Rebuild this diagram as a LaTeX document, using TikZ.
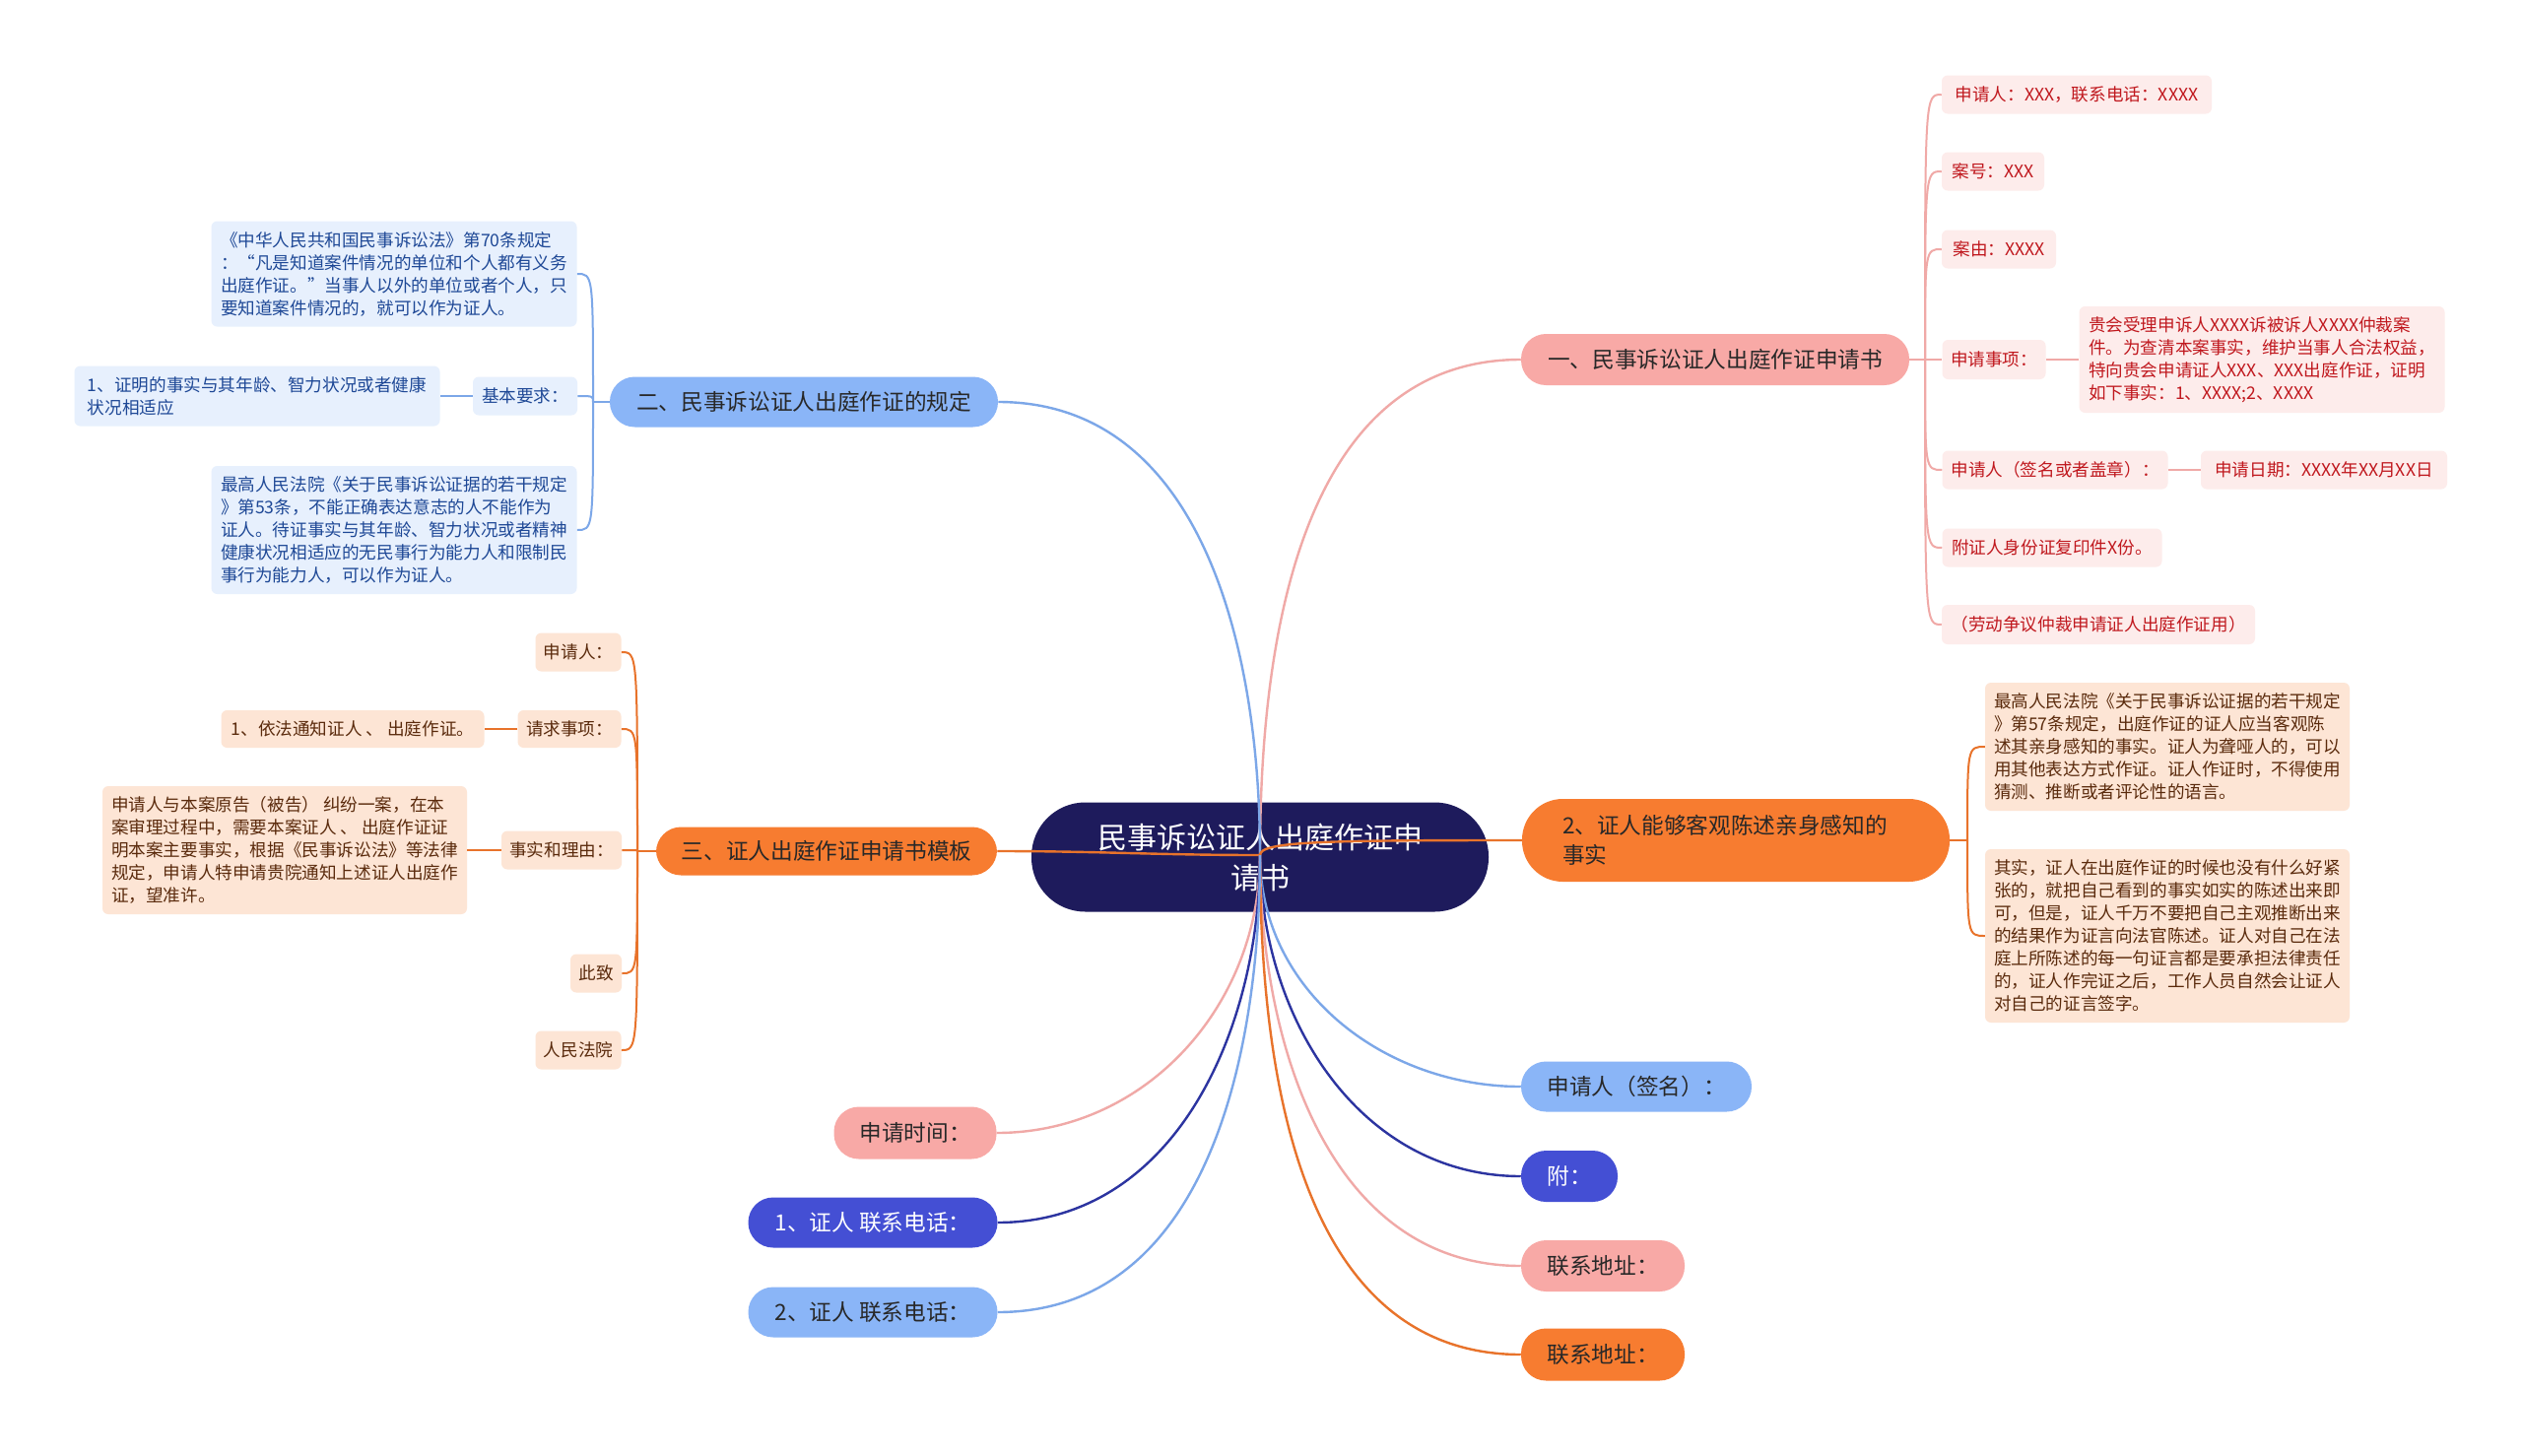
\documentclass[tikz,border=0pt]{standalone}
\usepackage{fontspec}
\newfontfamily\cjk{Noto Sans CJK SC}
\definecolor{rootc}{RGB}{30,27,92}
\definecolor{pinkB}{RGB}{248,169,166}
\definecolor{blueB}{RGB}{138,181,247}
\definecolor{orangeB}{RGB}{247,124,48}
\definecolor{navyB}{RGB}{68,79,212}
\definecolor{pinkL}{RGB}{240,169,167}
\definecolor{blueL}{RGB}{124,167,232}
\definecolor{orangeL}{RGB}{232,115,43}
\definecolor{navyL}{RGB}{44,52,160}
\definecolor{pinkC}{RGB}{253,236,235}
\definecolor{blueC}{RGB}{231,240,253}
\definecolor{orangeC}{RGB}{253,229,213}
\definecolor{redT}{RGB}{192,24,30}
\definecolor{blueT}{RGB}{30,72,150}
\definecolor{brownT}{RGB}{90,42,12}
\definecolor{darkT}{RGB}{40,40,40}
\begin{document}
\begin{tikzpicture}[x=0.75pt,y=-0.75pt,
  wh/.style 2 args={minimum width=#1*0.75pt, minimum height=#2*0.75pt},
  rootbox/.style={fill=rootc, text=white, rounded corners=41pt, align=center, inner sep=0pt,
    font=\cjk\fontsize{22.5pt}{30.75pt}\selectfont},
  mainbox/.style={rounded corners=19pt, inner sep=0pt, text=darkT,
    font=\cjk\fontsize{17pt}{22.5pt}\selectfont},
  leaf/.style={rounded corners=4.5pt, inner sep=0pt, align=left,
    font=\cjk\fontsize{13.2pt}{17.25pt}\selectfont},
  pleaf/.style={leaf, fill=pinkC, text=redT},
  bleaf/.style={leaf, fill=blueC, text=blueT},
  oleaf/.style={leaf, fill=orangeC, text=brownT},
  mk/.style={line width=1.8pt},
  lk/.style={line width=1.5pt}]
\useasboundingbox[fill=white] (0,0) rectangle (2560,1478);

% root
\node[rootbox, wh={464}{111}] (root) at (1279,870) {民事诉讼证人出庭作证申\\请书};

% main branches
\node[mainbox, fill=pinkB, wh={394}{52}] (b1) at (1741,365) {一、民事诉讼证人出庭作证申请书};
\node[mainbox, fill=blueB, wh={394}{51}] (b2) at (816,408) {二、民事诉讼证人出庭作证的规定};
\node[mainbox, fill=orangeB, wh={346}{49}] (b3) at (839,864) {三、证人出庭作证申请书模板};
\node[mainbox, fill=orangeB, align=left, rounded corners=31pt, inner xsep=41*0.75pt,
  text width=352*0.75pt, minimum height=84*0.75pt] (b4) at (1762,853) {2、证人能够客观陈述亲身感知的\\事实};
\node[mainbox, fill=blueB, wh={234}{51}] (b5) at (1661,1103) {申请人（签名）：};
\node[mainbox, fill=navyB, text=white, wh={98}{52}] (b6) at (1593,1194) {附：};
\node[mainbox, fill=pinkB, wh={166}{52}] (b7) at (1627,1285) {联系地址：};
\node[mainbox, fill=orangeB, wh={166}{53}] (b8) at (1627,1375) {联系地址：};
\node[mainbox, fill=pinkB, wh={165}{53}] (b9) at (929,1150) {申请时间：};
\node[mainbox, fill=navyB, text=white, wh={253}{51}] (b10) at (886,1241) {1、证人 联系电话：};
\node[mainbox, fill=blueB, wh={253}{51}] (b11) at (886,1332) {2、证人 联系电话：};

% branch 1 leaves
\node[pleaf, wh={274}{39}] (c1) at (2108,96) {申请人：XXX，联系电话：XXXX};
\node[pleaf, wh={104}{39}] (c2) at (2023,174) {案号：XXX};
\node[pleaf, wh={116}{39}] (c3) at (2029,253) {案由：XXXX};
\node[pleaf, wh={105}{40}] (c4) at (2024,365) {申请事项：};
\node[pleaf, wh={371}{108}] (c4a) at (2296,365) {贵会受理申诉人XXXX诉被诉人XXXX仲裁案\\件。为查清本案事实，维护当事人合法权益，\\特向贵会申请证人XXX、XXX出庭作证，证明\\如下事实：1、XXXX;2、XXXX};
\node[pleaf, wh={229}{39}] (c5) at (2086,477) {申请人（签名或者盖章）：};
\node[pleaf, wh={250}{39}] (c5a) at (2359,477) {申请日期：XXXX年XX月XX日};
\node[pleaf, wh={223}{39}] (c6) at (2083,556) {附证人身份证复印件X份。};
\node[pleaf, wh={318}{40}] (c7) at (2130,634) {（劳动争议仲裁申请证人出庭作证用）};

% branch 2 leaves
\node[bleaf, wh={371}{107}] (d1) at (400,278) {《中华人民共和国民事诉讼法》第70条规定\\：“凡是知道案件情况的单位和个人都有义务\\出庭作证。”当事人以外的单位或者个人，只\\要知道案件情况的，就可以作为证人。};
\node[bleaf, wh={106}{39}] (d2) at (533,402) {基本要求：};
\node[bleaf, wh={371}{61}] (d2a) at (261,402) {1、证明的事实与其年龄、智力状况或者健康\\状况相适应};
\node[bleaf, wh={371}{130}] (d3) at (400,538) {最高人民法院《关于民事诉讼证据的若干规定\\》第53条，不能正确表达意志的人不能作为\\证人。待证事实与其年龄、智力状况或者精神\\健康状况相适应的无民事行为能力人和限制民\\事行为能力人，可以作为证人。};

% branch 3 leaves
\node[oleaf, wh={87}{39}] (e1) at (587,662) {申请人：};
\node[oleaf, wh={105}{38}] (e2) at (578,740) {请求事项：};
\node[oleaf, wh={267}{38}] (e2a) at (358,740) {1、依法通知证人 、 出庭作证。};
\node[oleaf, wh={122}{39}] (e3) at (570,863) {事实和理由：};
\node[oleaf, wh={370}{130}] (e3a) at (289,863) {申请人与本案原告（被告） 纠纷一案，在本\\案审理过程中，需要本案证人 、 出庭作证证\\明本案主要事实，根据《民事诉讼法》等法律\\规定，申请人特申请贵院通知上述证人出庭作\\证，望准许。};
\node[oleaf, wh={52}{39}] (e4) at (605,988) {此致};
\node[oleaf, wh={87}{39}] (e5) at (587,1066) {人民法院};

% branch 4 leaves
\node[oleaf, wh={370}{130}] (f1) at (2200,758) {最高人民法院《关于民事诉讼证据的若干规定\\》第57条规定，出庭作证的证人应当客观陈\\述其亲身感知的事实。证人为聋哑人的，可以\\用其他表达方式作证。证人作证时，不得使用\\猜测、推断或者评论性的语言。};
\node[oleaf, wh={370}{176}] (f2) at (2200,950) {其实，证人在出庭作证的时候也没有什么好紧\\张的，就把自己看到的事实如实的陈述出来即\\可，但是，证人千万不要把自己主观推断出来\\的结果作为证言向法官陈述。证人对自己在法\\庭上所陈述的每一句证言都是要承担法律责任\\的，证人作完证之后，工作人员自然会让证人\\对自己的证言签字。};

% junctions
\coordinate (o) at (1279,868);
\coordinate (j1) at (1954,365);
\coordinate (j2) at (602,408);
\coordinate (j3) at (647,864);
\coordinate (j4) at (1997,853);

% main connectors
\draw[mk, pinkL] (o) to[out=90,in=180] (b1.west);
\draw[mk, blueL] (o) to[out=90,in=0] (b2.east);
\draw[mk, orangeL] (o) to[out=180,in=0] (b3.east);
\draw[mk, orangeL] (o) .. controls +(0,-14) and +(-200,0) .. (b4.west);
\draw[mk, blueL] (o) to[out=-90,in=180] (b5.west);
\draw[mk, navyL] (o) to[out=-90,in=180] (b6.west);
\draw[mk, pinkL] (o) to[out=-90,in=180] (b7.west);
\draw[mk, orangeL] (o) to[out=-90,in=180] (b8.west);
\draw[mk, pinkL] (o) to[out=-90,in=0] (b9.east);
\draw[mk, navyL] (o) to[out=-90,in=0] (b10.east);
\draw[mk, blueL] (o) to[out=-90,in=0] (b11.east);

% branch 1 connectors
\draw[lk, pinkL] (b1.east) -- (j1) -- (c4.west);
\foreach \n in {c1,c2,c3,c5,c6,c7}
  \draw[lk, pinkL] (j1) .. controls (j1 |- \n.west) and (j1 |- \n.west) .. (\n.west);
\draw[lk, pinkL] (c4.east) -- (c4a.west);
\draw[lk, pinkL] (c5.east) -- (c5a.west);

% branch 2 connectors
\draw[lk, blueL] (b2.west) -- (j2);
\foreach \n in {d1,d2,d3}
  \draw[lk, blueL] (j2) .. controls (j2 |- \n.east) and (j2 |- \n.east) .. (\n.east);
\draw[lk, blueL] (d2.west) -- (d2a.east);

% branch 3 connectors
\draw[lk, orangeL] (b3.west) -- (j3);
\foreach \n in {e1,e2,e3,e4,e5}
  \draw[lk, orangeL] (j3) .. controls (j3 |- \n.east) and (j3 |- \n.east) .. (\n.east);
\draw[lk, orangeL] (e2.west) -- (e2a.east);
\draw[lk, orangeL] (e3.west) -- (e3a.east);

% branch 4 connectors
\draw[lk, orangeL] (b4.east) -- (j4);
\foreach \n in {f1,f2}
  \draw[lk, orangeL] (j4) .. controls (j4 |- \n.west) and (j4 |- \n.west) .. (\n.west);
\end{tikzpicture}
\end{document}
